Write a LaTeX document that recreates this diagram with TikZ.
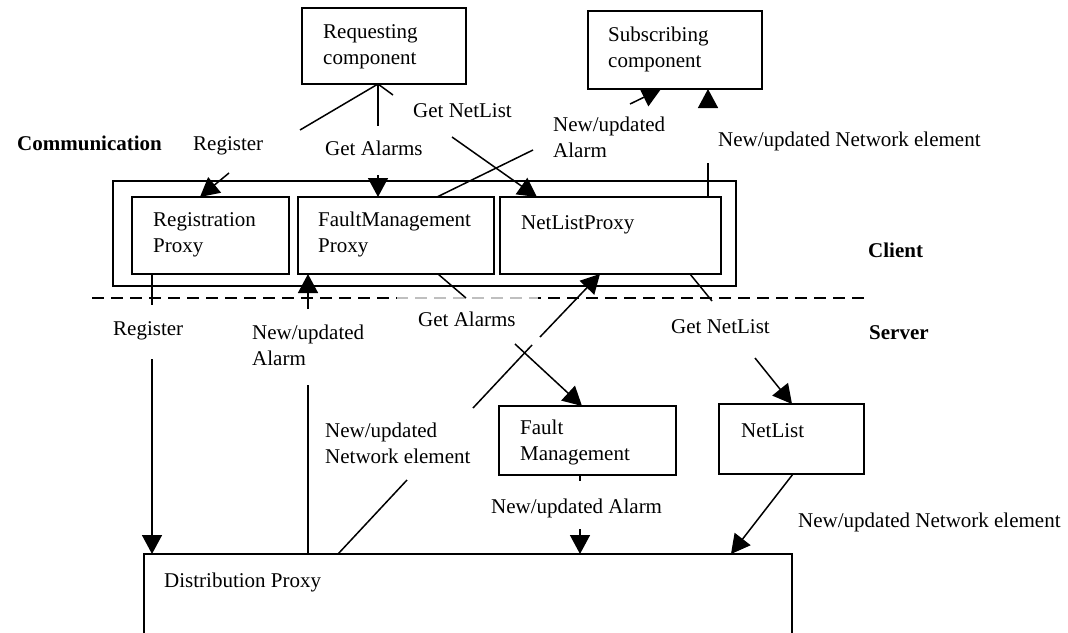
\documentclass[tikz,border=0pt]{standalone}
\usepackage{fontspec}
\setmainfont{Liberation Serif}
\usetikzlibrary{arrows.meta}
\begin{document}
\begin{tikzpicture}[x=1pt,y=-1pt,
  box/.style={draw, line width=1.5pt, anchor=north west, inner sep=0pt, outer sep=0pt},
  txt/.style={anchor=base west, inner sep=0pt, align=left, font=\fontsize{21}{26}\selectfont},
  bold/.style={txt, font=\fontsize{21}{26}\selectfont\bfseries},
  link/.style={line width=1.5pt},
  arr/.style={link, -{Triangle[length=19pt,width=20pt]}},
  divider/.style={line width=1.5pt, dash pattern=on 12pt off 7pt},
]
\useasboundingbox (0,0) rectangle (1068,632);
\clip (0,0) rectangle (1068,632);

% components and proxies
\node[box, minimum width=164pt, minimum height=76pt] (req) at (302,8) {};
\node[box, minimum width=174pt, minimum height=78pt] (sub) at (588,11) {};
\node[box, minimum width=623pt, minimum height=105pt] (client) at (113,181) {};
\node[box, minimum width=157pt, minimum height=77pt] (regp) at (132,197) {};
\node[box, minimum width=196pt, minimum height=77pt] (fmp) at (298,197) {};
\node[box, minimum width=221pt, minimum height=77pt] (nlp) at (500,197) {};
\node[box, minimum width=177pt, minimum height=69pt] (fm) at (499,406) {};
\node[box, minimum width=145pt, minimum height=70pt] (nl) at (719,404) {};
\node[box, minimum width=648pt, minimum height=120pt] (dist) at (144,554) {};

% box captions (base = baseline of the last line)
\node[txt] (reqt) at (323,64) {Requesting\\component};
\node[txt] (subt) at (608,67) {Subscribing\\component};
\node[txt] (regt) at (153,252) {Registration\\Proxy};
\node[txt] (fmpt) at (318,252) {FaultManagement\\Proxy};
\node[txt] (nlpt) at (521,229) {NetListProxy};
\node[txt] (fmt) at (520,460) {Fault\\Management};
\node[txt] (nlt) at (741,437) {NetList};
\node[txt] (distt) at (164,587) {Distribution Proxy};

% layer names
\node[bold] (comm) at (17,150) {Communication};
\node[bold] (clientl) at (868,257) {Client};
\node[bold] (serverl) at (869,339) {Server};

% message labels
\node[txt] (l1) at (193,150) {Register};
\node[txt] (l2) at (325,155) {Get Alarms};
\node[txt] (l3) at (413,117) {Get NetList};
\node[txt] (l4) at (553,157) {New/updated\\Alarm};
\node[txt] (l5) at (718,146) {New/updated Network element};
\node[txt] (l6) at (113,335) {Register};
\node[txt] (l7) at (252,365) {New/updated\\Alarm};
\node[txt] (l8) at (418,326) {Get Alarms};
\node[txt] (l9) at (671,333) {Get NetList};
\node[txt] (l10) at (325,463) {New/updated\\Network element};
\node[txt] (l11) at (491,513) {New/updated Alarm};
\node[txt] (l12) at (798,527) {New/updated Network element};

% client/server divider
\coordinate (dvl) at (92,298);
\coordinate (dvr) at (866,298);
\coordinate (dga) at (397,298);
\coordinate (dgb) at (538,298);
\draw[divider] (dvl) -- (dvr);
\draw[divider, black!25, dash phase=305pt] (dga) -- (dgb);

% break points where the connectors pass their labels
\coordinate (c1a) at (300,130);  \coordinate (c1b) at (229,173);
\coordinate (c2a) at (378,126);  \coordinate (c2b) at (378,175);
\coordinate (c3a) at (393,95);   \coordinate (c3b) at (452,137);
\coordinate (c4a) at (533,150);  \coordinate (c4b) at (630,104);
\coordinate (c5a) at (708,163);  \coordinate (c5b) at (708,107);
\coordinate (c6a) at (152,305);  \coordinate (c6b) at (152,359);
\coordinate (c7a) at (308,385);  \coordinate (c7b) at (308,309);
\coordinate (c8a) at (466,298);  \coordinate (c8b) at (515,344);
\coordinate (c9a) at (712,301);  \coordinate (c9b) at (755,358);
\coordinate (c10a) at (407,480); \coordinate (c10b) at (473,408);
\coordinate (c10c) at (532,345); \coordinate (c10d) at (540,337);
\coordinate (c11a) at (580,481); \coordinate (c11b) at (580,529);

% client side messages
\draw[link] (378,0 |- req.south) -- (c1a);
\draw[arr] (c1b) -- (200,0 |- regp.north);
\draw[link] (378,0 |- req.south) -- (c2a);
\draw[arr] (c2b) -- (378,0 |- fmp.north);
\draw[link] (378,0 |- req.south) -- (c3a);
\draw[arr] (c3b) -- (537,0 |- nlp.north);
\draw[link] (437,0 |- fmp.north) -- (c4a);
\draw[arr] (c4b) -- (661,0 |- sub.south);
\draw[link] (708,0 |- nlp.north) -- (c5a);
\draw[arr] (c5b) -- (708,0 |- sub.south);

% server side messages
\draw[link] (152,0 |- regp.south) -- (c6a);
\draw[arr] (c6b) -- (152,0 |- dist.north);
\draw[link] (308,0 |- dist.north) -- (c7a);
\draw[arr] (c7b) -- (308,0 |- fmp.south);
\draw[link] (438,0 |- fmp.south) -- (c8a);
\draw[arr] (c8b) -- (582,0 |- fm.north);
\draw[link] (690,0 |- nlp.south) -- (c9a);
\draw[arr] (c9b) -- (792,0 |- nl.north);
\draw[link] (338,0 |- dist.north) -- (c10a);
\draw[link] (c10b) -- (c10c);
\draw[arr] (c10d) -- (600,0 |- nlp.south);
\draw[link] (580,0 |- fm.south) -- (c11a);
\draw[arr] (c11b) -- (580,0 |- dist.north);
\draw[arr] (793,0 |- nl.south) -- (731,0 |- dist.north);
\end{tikzpicture}
\end{document}
